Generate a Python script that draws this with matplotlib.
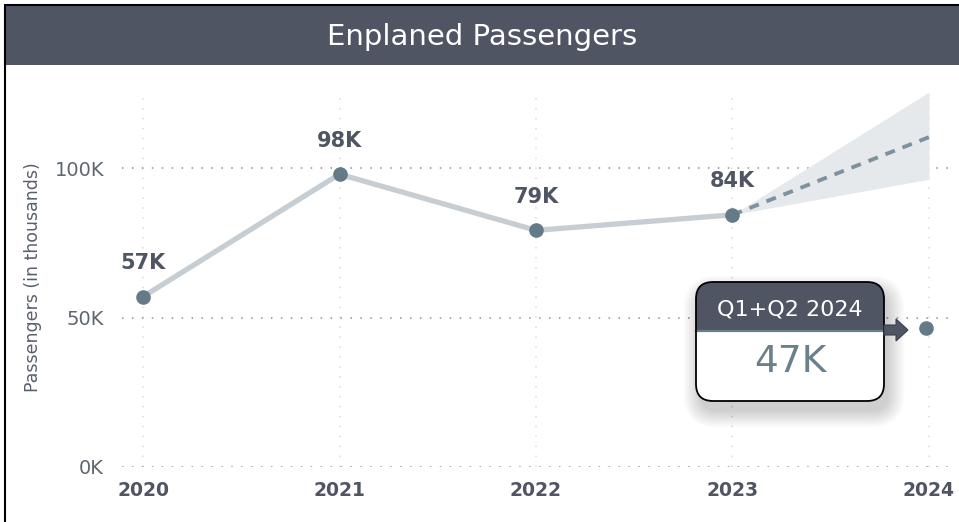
import matplotlib
matplotlib.use('Agg')
import matplotlib.pyplot as plt
import matplotlib.patches as mpatches

years = [2020, 2021, 2022, 2023]
passengers = [57.0, 98.0, 79.2, 84.4]          # thousands
partial_year = 2024
partial_value = 46.6                            # Q1+Q2 2024
partial_label = 'Q1+Q2 2024'
forecast_years = [2023, 2024]
forecast_mid = [84.4, 110.4]
forecast_low = [84.4, 96.3]
forecast_high = [84.4, 125.5]
year_ticks = [2020, 2021, 2022, 2023, 2024]
y_ticks = [0, 50, 100]
y_tick_labels = ['0K', '50K', '100K']

dark = '#4f5563'
W, H = 959, 522

fig = plt.figure(figsize=(W / 100, H / 100), dpi=100)
fig.patch.set_facecolor('white')

ax = fig.add_axes([122 / W, (H - 467) / H, 826 / W, (467 - 92) / H])
ax.set_xlim(2019.893, 2024.097)
ax.set_ylim(0, 125.5)
for s in ax.spines.values():
    s.set_visible(False)

# grid
for y in y_ticks:
    ax.axhline(y, color='#8a9099', lw=1.1, ls=(0, (1, 5.5)), zorder=1)
for x in year_ticks:
    ax.axvline(x, color='#d9dadc', lw=1.1, ls=(0, (1, 5.5)), zorder=0)

# forecast band
ax.fill_between(forecast_years, forecast_low, forecast_high, color='#e6e9ec',
                lw=0, zorder=1, clip_on=False)
ax.plot(forecast_years, forecast_mid, color='#7e929e', lw=2.8,
        ls=(0, (2.6, 2.1)), zorder=2)

# main line
ax.plot(years, passengers, color='#c6ced4', lw=3.8, zorder=3,
        solid_capstyle='round')
ax.plot(years, passengers, 'o', color='#647a87', ms=9.5, zorder=4)
ax.plot([partial_year - 0.015], [partial_value], 'o', color='#647a87', ms=9.5,
        zorder=4)

for x, v in zip(years, passengers):
    ax.annotate(f'{v:.0f}K', (x, v), xytext=(0, 24), textcoords='offset points',
                ha='center', va='center', fontsize=15, fontweight='bold',
                color=dark, zorder=5)

ax.set_xticks(year_ticks)
ax.set_xticklabels([str(y) for y in year_ticks], fontsize=13.5,
                   fontweight='bold', color=dark)
ax.set_yticks(y_ticks)
ax.set_yticklabels(y_tick_labels, fontsize=14, color='#5f6670')
ax.tick_params(axis='both', length=0)
ax.tick_params(axis='y', pad=13)
ax.tick_params(axis='x', pad=10)

fig.text(33 / W, (H - 277) / H, 'Passengers (in thousands)', rotation=90,
         ha='center', va='center', fontsize=12.5, color='#59606b')

# overlay in pixel coordinates
ov = fig.add_axes([0, 0, 1, 1])
ov.set_xlim(0, W)
ov.set_ylim(H, 0)
ov.axis('off')
ov.patch.set_alpha(0)

# title bar and frame
ov.add_patch(mpatches.Rectangle((5, 6), W - 5, 59, color=dark, lw=0))
ov.plot([4, W], [4.5, 4.5], color='black', lw=1.5, solid_capstyle='butt')
ov.plot([4.5, 4.5], [4, H], color='black', lw=1.5, solid_capstyle='butt')
ov.text((5 + W) / 2, 37, 'Enplaned Passengers', ha='center', va='center',
        fontsize=21, color='white')

# callout box with soft shadow
bx, by, bw, bh = 696, 282, 188, 119
style = 'round,pad=0,rounding_size=17'
for i in range(16):
    g = i * 2.2
    ov.add_patch(mpatches.FancyBboxPatch((bx + 4 - g / 2, by + 10 - g / 2),
                                         bw + g, bh + g,
                                         boxstyle='round,pad=0,rounding_size=%g' % (17 + g / 2),
                                         fc='#000000', ec='none',
                                         alpha=0.012, zorder=1))
box = mpatches.FancyBboxPatch((bx, by), bw, bh, boxstyle=style,
                              fc='white', ec='none', zorder=2)
ov.add_patch(box)
head = mpatches.Rectangle((bx, by), bw, 49, fc=dark, ec='none', zorder=3)
ov.add_patch(head)
head.set_clip_path(box)
ov.plot([bx, bx + bw], [by + 49, by + 49], color='#6a7f8c', lw=1.6, zorder=4)
ov.add_patch(mpatches.FancyBboxPatch((bx, by), bw, bh, boxstyle=style,
                                     fc='none', ec='black', lw=1.3, zorder=5))
ov.text(bx + bw / 2, by + 27, partial_label, ha='center', va='center',
        fontsize=16, color='white', zorder=6)
ov.text(bx + bw / 2, by + 80, f'{partial_value:.0f}K', ha='center',
        va='center', fontsize=27, color='#6b808d', zorder=6)
ov.add_patch(mpatches.FancyArrow(bx + bw, 330, 24, 0, width=10, head_width=22,
                                 head_length=12, length_includes_head=True,
                                 fc=dark, ec='#3a3f48', lw=0.8, zorder=6))

fig.savefig('out.png', dpi=100)
